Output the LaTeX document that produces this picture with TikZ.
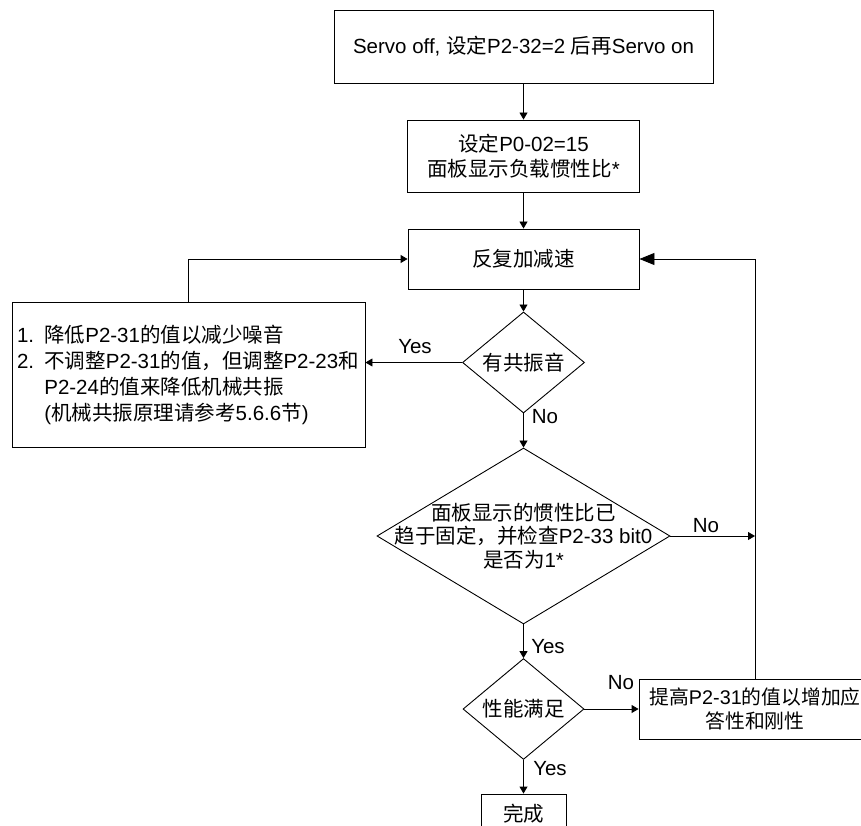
\documentclass[tikz,border=0pt]{standalone}
\usepackage{fontspec}
\setmainfont{Liberation Sans}
\newfontfamily\cjk{Noto Sans CJK SC}
\newcommand{\zh}[1]{{\cjk #1}}
\usetikzlibrary{arrows.meta,shapes.geometric}

\tikzset{
  box/.style={draw,line width=0.9pt,inner sep=0pt,align=center},
  dia/.style={draw,diamond,line width=0.9pt,inner sep=0pt},
  flow/.style={line width=0.9pt,-{Triangle[length=7pt,width=8pt]}},
  back/.style={line width=0.9pt,-{Triangle[length=15pt,width=12pt]}},
  tag/.style={inner sep=0pt}
}

\begin{document}
\begin{tikzpicture}[x=1pt,y=-1pt,font=\fontsize{20.5}{25}\selectfont]
\useasboundingbox (0,0) rectangle (861,826);
\clip (0,0) rectangle (861,826);

% ---- main column ----
\node[box,minimum width=379,minimum height=73] (start) at (523.5,46.5)
  {Servo off, \zh{设定}P2-32=2 \zh{后再}Servo on};
\node[box,minimum width=232,minimum height=72] (ratio) at (523.5,156)
  {\zh{设定}P0-02=15\\\zh{面板显示负载惯性比}*};
\node[box,minimum width=231,minimum height=60] (accel) at (523.5,259) {\zh{反复加减速}};

% ---- decisions ----
\node[dia,minimum width=122,minimum height=71] (noise) at (523.5,362.5) {\zh{有共振音}};
\node[dia,minimum width=293,minimum height=176] (check) at (523.5,536) {};
\node[align=center,font=\fontsize{20.5}{23.5}\selectfont] (checktxt) at (check)
  {\zh{面板显示的惯性比已}\\\zh{趋于固定，并检查}P2-33 bit0\\\zh{是否为}1*};
\node[dia,minimum width=121,minimum height=72] (perf) at (523.5,709) {\zh{性能满足}};
\node[box,minimum width=85,minimum height=40] (done) at (523.5,814) {\zh{完成}};

% ---- side boxes ----
\node[box,align=left,inner xsep=5pt,text width=343,minimum height=145,
      font=\fontsize{20.5}{26}\selectfont] (lower) at (188.5,374.5)
  {1. \zh{降低}P2-31\zh{的值以减少噪音}\\
   2. \zh{不调整}P2-31\zh{的值，但调整}P2-23\zh{和}\\
   \hphantom{2. }P2-24\zh{的值来降低机械共振}\\
   \hphantom{2. }(\zh{机械共振原理请参考}5.6.6\zh{节})};
\node[box,minimum width=232,minimum height=60,font=\fontsize{19.8}{24}\selectfont] (raise) at (755,709)
  {\zh{提高}P2-31\zh{的值以增加应}\\\zh{答性和刚性}};

% ---- connectors ----
\draw[flow] (start) -- (ratio);
\draw[flow] (ratio) -- (accel);
\draw[flow] (accel) -- (noise);
\draw[flow] (noise) -- (check);
\draw[flow] (noise.west) -- (noise.west -| lower.east);
\draw[flow] (lower.north) |- (accel.west);
\draw[flow] (check.east) -- (check.east -| raise.north);
\draw[flow] (check) -- (perf);
\draw[flow] (perf.east) -- (raise.west);
\draw[flow] (perf) -- (done);
\draw[back] (raise.north) |- (accel.east);

% ---- branch labels ----
\node[tag] (yes1) at (415,347) {Yes};
\node[tag] (no1) at (545,417) {No};
\node[tag] (no2) at (706,526) {No};
\node[tag] (yes2) at (548,647) {Yes};
\node[tag] (no3) at (621,683) {No};
\node[tag] (yes3) at (550,769) {Yes};
\end{tikzpicture}
\end{document}
